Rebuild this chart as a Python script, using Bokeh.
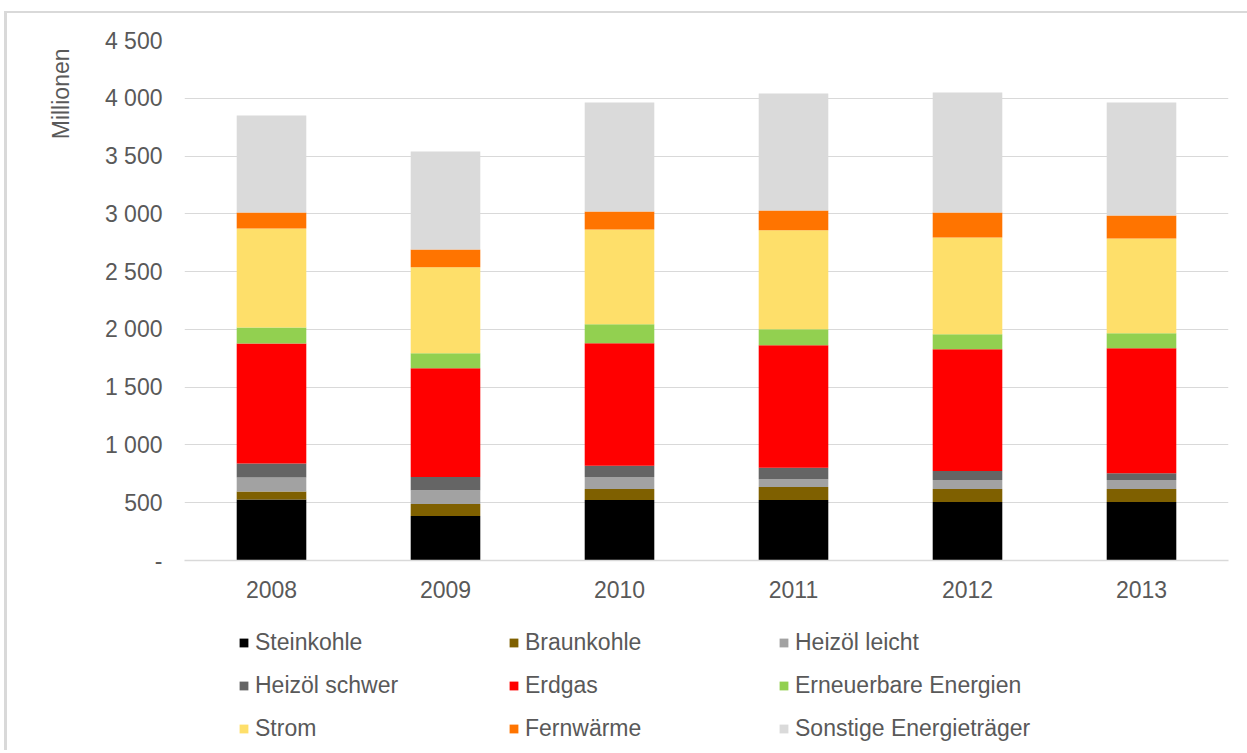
from bokeh.plotting import figure
from bokeh.layouts import column
from bokeh.models import FactorRange, FixedTicker, Legend, LegendItem, Title, Range1d
from bokeh.embed import file_html
from bokeh.resources import INLINE

years = ["2008", "2009", "2010", "2011", "2012", "2013"]
series = ["Steinkohle", "Braunkohle", "Heizöl leicht", "Heizöl schwer", "Erdgas",
          "Erneuerbare Energien", "Strom", "Fernwärme", "Sonstige Energieträger"]
steinkohle = [528, 385, 523, 523, 506, 506]
braunkohle = [69, 103, 95, 112, 112, 112]
heizoel_leicht = [121, 121, 104, 69, 78, 78]
heizoel_schwer = [121, 113, 97, 98, 78, 60]
erdgas = [1039, 942, 1061, 1061, 1054, 1081]
erneuerbare = [138, 129, 164, 138, 130, 129]
strom = [857, 744, 821, 856, 838, 821]
fernwaerme = [138, 155, 156, 172, 216, 199]
sonstige = [840, 847, 942, 1012, 1037, 977]
colors = ["#000000", "#7F6000", "#A2A2A2", "#656565", "#FF0000",
          "#92D050", "#FEDF6A", "#FF7400", "#DADADA"]
y_ticks = [0, 500, 1000, 1500, 2000, 2500, 3000, 3500, 4000, 4500]
y_tick_labels = ["-", "500", "1 000", "1 500", "2 000", "2 500", "3 000", "3 500", "4 000", "4 500"]

FONT = "Liberation Sans"
TXT = "#595959"

data = {"year": years}
for name, vals in zip(series, [steinkohle, braunkohle, heizoel_leicht, heizoel_schwer, erdgas,
                               erneuerbare, strom, fernwaerme, sonstige]):
    data[name] = vals

p = figure(x_range=FactorRange(*years, range_padding=0), y_range=Range1d(0, 4500),
           frame_width=1044, frame_height=520, output_backend="svg", toolbar_location=None,
           min_border_left=177, min_border_right=19, min_border_top=27, min_border_bottom=50)

renderers = p.vbar_stack(series, x="year", width=0.4, color=colors, source=data, line_width=0)

p.outline_line_color = None
p.xgrid.grid_line_color = None
p.ygrid.grid_line_color = "#d9d9d9"
p.ygrid.grid_line_width = 1.2
p.ygrid.ticker = FixedTicker(ticks=y_ticks)

p.yaxis.ticker = FixedTicker(ticks=y_ticks)
p.yaxis.major_label_overrides = {t: l for t, l in zip(y_ticks, y_tick_labels)}
p.yaxis.axis_line_color = None
p.yaxis.major_tick_line_color = None
p.yaxis.minor_tick_line_color = None
p.yaxis.major_label_standoff = 16
p.yaxis.major_label_text_font = FONT
p.yaxis.major_label_text_font_size = "23px"
p.yaxis.major_label_text_color = TXT

p.xaxis.axis_line_color = "#d9d9d9"
p.xaxis.axis_line_width = 1.5
p.xaxis.major_tick_line_color = None
p.xaxis.minor_tick_line_color = None
p.xaxis.major_label_standoff = 14
p.xaxis.major_label_text_font = FONT
p.xaxis.major_label_text_font_size = "23px"
p.xaxis.major_label_text_color = TXT

ytitle = Title(text="Millionen", align="right", offset=8, standoff=56, text_font=FONT,
               text_font_size="23px", text_color=TXT, text_font_style="normal")
p.add_layout(ytitle, "left")

# legend-only figure: zero-width bars far outside the view, only the legend is seen
q = figure(x_range=FactorRange(*years), y_range=Range1d(-20000, -19000),
           width=1240, height=140, output_backend="svg", toolbar_location=None,
           min_border_left=0, min_border_right=0, min_border_top=0, min_border_bottom=0)
q.axis.visible = False
q.grid.grid_line_color = None
q.outline_line_color = None
lrs = q.vbar_stack(series, x="year", width=0.0, color=colors, source=data, line_width=0)

items = [LegendItem(label=s, renderers=[r]) for s, r in zip(series, lrs)]
legend = Legend(items=items, ncols=3, location=(54, 8), orientation="horizontal",
                glyph_width=11, glyph_height=11, label_standoff=6, label_width=237,
                label_height=27, spacing=16, padding=0, margin=0,
                border_line_alpha=0, background_fill_alpha=0,
                label_text_font=FONT, label_text_font_size="23px", label_text_color=TXT)
q.add_layout(legend, "center")

layout = column(p, q, spacing=0,
                styles={"margin-left": "4px", "margin-top": "11px",
                        "border-left": "3px solid #d9d9d9", "border-top": "2px solid #d9d9d9"})

open("out.html", "w").write(file_html(layout, INLINE))
